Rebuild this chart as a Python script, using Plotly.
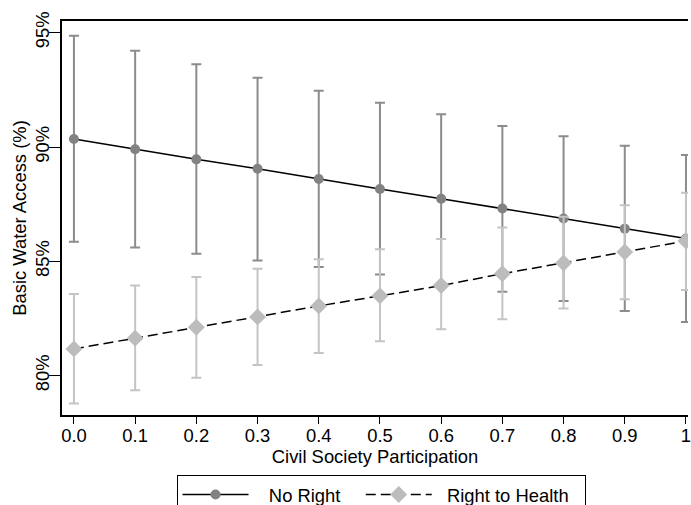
import plotly.graph_objects as go

x_vals = [0.0, 0.1, 0.2, 0.3, 0.4, 0.5, 0.6, 0.7, 0.8, 0.9, 1.0]
x_tick_labels = ["0.0", "0.1", "0.2", "0.3", "0.4", "0.5", "0.6", "0.7", "0.8", "0.9", "1"]

no_right = [90.35, 89.90, 89.46, 89.05, 88.60, 88.16, 87.74, 87.31, 86.87, 86.43, 86.00]
no_right_upper = [94.86, 94.21, 93.62, 93.03, 92.46, 91.93, 91.43, 90.92, 90.47, 90.06, 89.65]
no_right_lower = [85.86, 85.60, 85.33, 85.04, 84.75, 84.42, 84.05, 83.67, 83.27, 82.83, 82.35]

health = [81.17, 81.64, 82.12, 82.57, 83.05, 83.49, 83.94, 84.46, 84.93, 85.41, 85.89]
health_upper = [83.57, 83.94, 84.32, 84.68, 85.09, 85.53, 85.98, 86.48, 86.95, 87.45, 88.00]
health_lower = [78.78, 79.36, 79.91, 80.47, 80.99, 81.51, 82.03, 82.47, 82.94, 83.34, 83.75]

y_ticks = [80, 85, 90, 95]
y_tick_labels = ["80%", "85%", "90%", "95%"]

NB = "\u00a0"
series_names = [NB * 3 + "No Right" + NB * 3, NB * 2 + "Right to Health" + NB * 2]

FONT = "Liberation Sans, Arial, Helvetica, sans-serif"
FS = 18.4

fig = go.Figure()

fig.add_trace(go.Scatter(
    x=x_vals, y=no_right, name=series_names[0], mode="lines+markers",
    line=dict(color="black", width=1.5),
    marker=dict(symbol="circle", size=10, color="#828282"),
    error_y=dict(type="data", symmetric=False,
                 array=[u - m for u, m in zip(no_right_upper, no_right)],
                 arrayminus=[m - l for m, l in zip(no_right, no_right_lower)],
                 color="#8c8c8c", thickness=2, width=5),
))
fig.add_trace(go.Scatter(
    x=x_vals, y=health, name=series_names[1], mode="lines+markers",
    line=dict(color="black", width=1.5, dash="10px,5px"),
    marker=dict(symbol="diamond", size=13, color="#bcbcbc"),
    error_y=dict(type="data", symmetric=False,
                 array=[u - m for u, m in zip(health_upper, health)],
                 arrayminus=[m - l for m, l in zip(health, health_lower)],
                 color="#c4c4c4", thickness=2, width=5),
))

fig.update_layout(
    width=691, height=505,
    margin=dict(l=62, r=0, t=21, b=90),
    paper_bgcolor="white", plot_bgcolor="white",
    font=dict(family=FONT, size=FS, color="black"),
    showlegend=True,
    legend=dict(
        orientation="h", xref="container", yref="container",
        x=0.5514, xanchor="center", y=0.0594, yanchor="top",
        bordercolor="black", borderwidth=1, bgcolor="white",
        itemwidth=66, font=dict(size=FS, family=FONT, color="black"),
        tracegroupgap=0,
    ),
)

fig.update_xaxes(
    range=[-0.0195, 1.0033],
    tickmode="array", tickvals=x_vals, ticktext=x_tick_labels,
    ticks="outside", ticklen=7, tickwidth=1, tickcolor="black",
    ticklabeloverflow="allow", ticklabelstandoff=-4,
    showline=True, linecolor="black", linewidth=1.5, mirror=True,
    showgrid=False, zeroline=False,
    title=dict(text="Civil Society Participation", standoff=0,
               font=dict(size=FS, family=FONT, color="black")),
    tickfont=dict(size=FS, family=FONT, color="black"),
)
fig.update_yaxes(
    range=[78.28, 95.51],
    tickmode="array", tickvals=y_ticks, ticktext=y_tick_labels,
    tickangle=-90,
    ticks="outside", ticklen=11, tickwidth=1, tickcolor="black",
    ticklabelstandoff=-7,
    showline=True, linecolor="black", linewidth=1.5, mirror=False,
    showgrid=False, zeroline=False,
    title=dict(text="Basic Water Access (%)", standoff=0,
               font=dict(size=FS, family=FONT, color="black")),
    tickfont=dict(size=FS, family=FONT, color="black"),
)

fig.write_html("out.html")
